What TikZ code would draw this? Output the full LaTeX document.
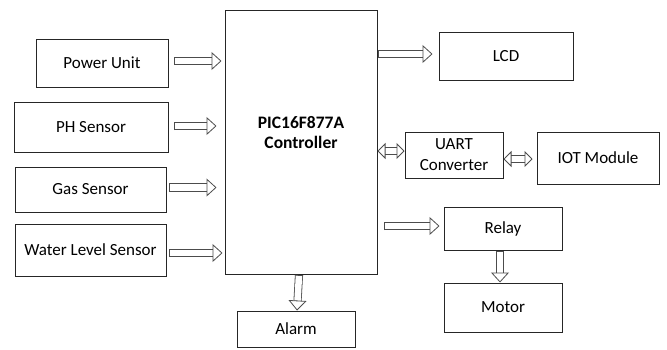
\documentclass[tikz,border=0pt]{standalone}
\usepackage{fontspec}
\setmainfont{Carlito}
\usetikzlibrary{arrows.meta}
\tikzset{
  box/.style={draw=black!85, line width=1pt, fill=white, inner sep=0pt, align=center},
  fat/.style={draw=black!70, double=white, double distance=6.5pt, line width=0.8pt,
    {Bar[width=8.1pt]}-{Triangle[open, length=10pt, width=18pt]}},
  fatboth/.style={draw=black!70, double=white, double distance=6.5pt, line width=0.8pt,
    {Triangle[open, length=8pt, width=16pt]}-{Triangle[open, length=8pt, width=16pt]}}
}
\begin{document}
\begin{tikzpicture}[x=1pt, y=-1pt, font=\fontsize{17}{21}\selectfont]
\useasboundingbox (0,0) rectangle (667,349);
% input blocks on the left
\node[box, minimum width=132pt, minimum height=48pt] (pu)  at (102,63)    {Power Unit};
\node[box, minimum width=154pt, minimum height=50pt] (ph)  at (91,127)    {PH Sensor};
\node[box, minimum width=151pt, minimum height=45pt] (gas) at (90.5,189.5) {Gas Sensor};
\node[box, minimum width=151pt, minimum height=52pt] (wls) at (90.5,250)  {Water Level Sensor};
% controller
\node[box, minimum width=152pt, minimum height=264pt,
  label={[name=ctrllbl, font=\fontsize{17.5}{20}\selectfont\bfseries, align=center, yshift=10pt]center:PIC16F877A\\Controller}]
  (ctrl) at (301,142.5) {};
% output blocks
\node[box, minimum width=134pt, minimum height=48pt] (lcd)   at (506,56)    {LCD};
\node[box, minimum width=98pt,  minimum height=46pt] (uart)  at (454,155)   {UART\\Converter};
\node[box, minimum width=122pt, minimum height=52pt] (iot)   at (598,158)   {IOT Module};
\node[box, minimum width=118pt, minimum height=43pt] (relay) at (503,228.5) {Relay};
\node[box, minimum width=118pt, minimum height=49pt] (motor) at (503,307.5) {Motor};
\node[box, minimum width=118pt, minimum height=36pt] (alarm) at (296,329)   {Alarm};
% inputs into the controller
\draw[fat] ([xshift=5pt, yshift=2pt]pu.east) -- ([xshift=-3pt, yshift=2pt]pu.east -| ctrl.west);
\draw[fat] ([xshift=5pt, yshift=1pt]ph.east) -- ([xshift=-8pt, yshift=1pt]ph.east -| ctrl.west);
\draw[fat] ([xshift=2pt, yshift=2pt]gas.east) -- ([xshift=-8pt, yshift=2pt]gas.east -| ctrl.west);
\draw[fat] ([xshift=2pt, yshift=-3pt]wls.east) -- ([xshift=-2pt, yshift=-3pt]wls.east -| ctrl.west);
% outputs of the controller
\draw[fat] ([yshift=2pt]ctrl.east |- lcd.west) -- ([xshift=-6pt, yshift=2pt]lcd.west);
\draw[fatboth] ([yshift=4pt]ctrl.east |- uart.west) -- ([yshift=4pt]uart.west);
\draw[fatboth] ([yshift=-1pt]uart.east |- iot.west) -- ([xshift=-4pt, yshift=-1pt]iot.west);
\draw[fat] ([xshift=6pt, yshift=2.5pt]ctrl.east |- relay.west) -- ([xshift=-4pt, yshift=2.5pt]relay.west);
\draw[fat] ([xshift=-3pt]relay.south) -- ([xshift=-3pt]motor.north);
\draw[fat] ([xshift=-2pt]ctrl.south) -- ([xshift=1pt]alarm.north);
\end{tikzpicture}
\end{document}
